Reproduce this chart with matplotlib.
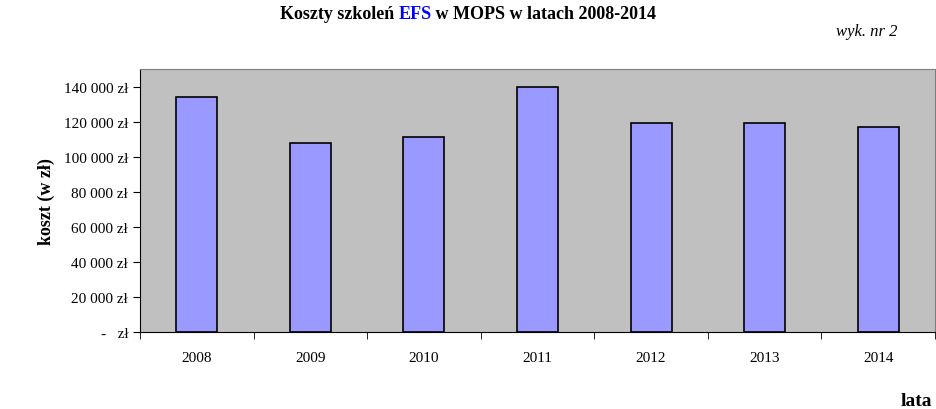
import matplotlib
matplotlib.use("Agg")
import matplotlib.pyplot as plt
from matplotlib.ticker import FuncFormatter

years = ["2008", "2009", "2010", "2011", "2012", "2013", "2014"]
costs = [134000, 108000, 111000, 139500, 119000, 119000, 117000]

plt.rcParams['font.family'] = ['Liberation Serif', 'DejaVu Serif']
fig = plt.figure(figsize=(9.37, 4.10), dpi=100)
ax = fig.add_axes([140/937, 1-333/410, 795/937, 263/410])
ax.set_facecolor('#c0c0c0')
x = range(len(years))
ax.bar(x, costs, width=0.36, color='#9999ff', edgecolor='black', linewidth=1.2)
ax.set_xlim(-0.5, len(years)-0.5)
ax.set_ylim(0, 150000)
ax.set_yticks(range(0, 140001, 20000))
def fmt(v, p):
    if v == 0:
        return "-   zł"
    return f"{int(v):,}".replace(",", " ") + " zł"
ax.yaxis.set_major_formatter(FuncFormatter(fmt))
ax.set_xticks(list(x))
ax.set_xticklabels(years)
ax.set_xticks([i+0.5 for i in range(-1, len(years))], minor=True)
ax.tick_params(axis='x', which='major', length=0, pad=14, labelsize=11)
ax.tick_params(axis='x', which='minor', length=5, direction='out')
ax.tick_params(axis='y', labelsize=11, length=5, direction='out')
for s in ['top', 'right']:
    ax.spines[s].set_visible(True)
    ax.spines[s].set_color('#808080')
ax.spines['left'].set_color('black')
ax.spines['bottom'].set_color('black')
ax.set_ylabel("koszt (w zł)", fontsize=13, fontweight='bold', labelpad=6)

t1 = fig.text(0.5, 0.985, "Koszty szkoleń ", ha='right', va='top', fontsize=13, fontweight='bold')
fig.canvas.draw()
r = fig.canvas.get_renderer()
# compose title centered around ~ x=468
parts = [("Koszty szkoleń ", 'black'), ("EFS", 'blue'), (" w MOPS w latach 2008-2014", 'black')]
t1.remove()
widths = []
texts = []
for s, c in parts:
    t = fig.text(0, 0.985, s, ha='left', va='top', fontsize=13, fontweight='bold', color=c)
    texts.append(t)
fig.canvas.draw()
ws = [t.get_window_extent(r).width for t in texts]
start = 468 - sum(ws)/2
for t, w in zip(texts, ws):
    t.set_x(start/937)
    start += w
fig.text(898/937, 1-32/410, "wyk. nr 2", ha='right', va='center', fontsize=12, style='italic')
fig.text(932/937, 1-402/410, "lata", ha='right', va='center', fontsize=14, fontweight='bold')
fig.savefig("out.png", dpi=100)
